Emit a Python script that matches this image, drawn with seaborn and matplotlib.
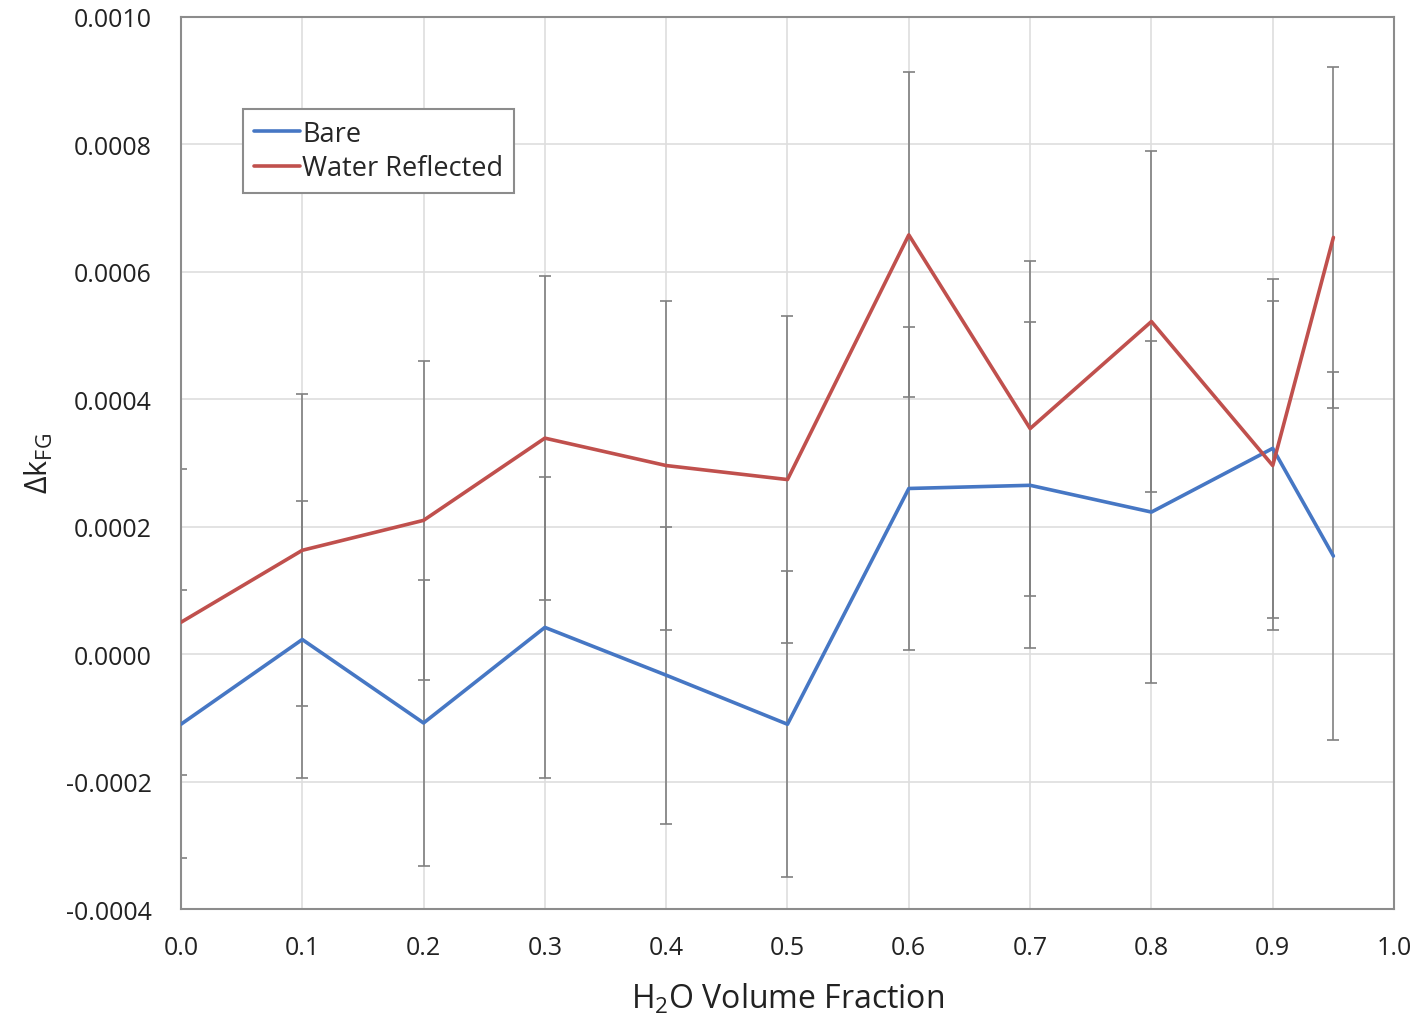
import numpy as np
import pandas as pd
import seaborn as sns
import matplotlib.pyplot as plt
from matplotlib.ticker import FuncFormatter, MultipleLocator

# valores
fraction = [0.0, 0.1, 0.2, 0.3, 0.4, 0.5, 0.6, 0.7, 0.8, 0.9, 0.95]
bare = [-0.000110, 0.000023, -0.000108, 0.000042, -0.000033, -0.000110,
        0.000260, 0.000265, 0.000223, 0.000323, 0.000154]
bare_err = [0.000210, 0.000218, 0.000225, 0.000236, 0.000233, 0.000240,
            0.000254, 0.000256, 0.000268, 0.000266, 0.000289]
water = [0.000050, 0.000163, 0.000210, 0.000339, 0.000296, 0.000274,
         0.000658, 0.000354, 0.000522, 0.000296, 0.000654]
water_err = [0.000240, 0.000245, 0.000250, 0.000254, 0.000258, 0.000256,
             0.000255, 0.000263, 0.000268, 0.000258, 0.000267]

df = pd.DataFrame({
    'Fraction': fraction * 2,
    'dk': bare + water,
    'err': bare_err + water_err,
    'Series': ['Bare'] * len(fraction) + ['Water Reflected'] * len(fraction),
})

sns.set_theme(style="whitegrid")
plt.rcParams['font.family'] = ['Open Sans', 'DejaVu Sans']

colors = {'Bare': '#4677c4', 'Water Reflected': '#c0504d'}

fig = plt.figure(figsize=(14.17, 10.2), dpi=100)
ax = fig.add_axes([0.1277, 0.1078, 0.8561, 0.8746])

# barras de erro
for name, grp in df.groupby('Series'):
    ax.errorbar(grp['Fraction'], grp['dk'], yerr=grp['err'], fmt='none',
                ecolor='#808080', elinewidth=1.2, capsize=4, capthick=1.2, zorder=2)

sns.lineplot(data=df, x='Fraction', y='dk', hue='Series', palette=colors,
             linewidth=2.6, ax=ax, zorder=3, sort=False)

ax.set_xlim(0, 1.0)
ax.set_ylim(-0.0004, 0.0010)
ax.xaxis.set_major_locator(MultipleLocator(0.1))
ax.yaxis.set_major_locator(MultipleLocator(0.0002))
ax.xaxis.set_major_formatter(FuncFormatter(lambda v, p: f'{v:.1f}'))
ax.yaxis.set_major_formatter(FuncFormatter(lambda v, p: f'{v:.4f}'))
ax.tick_params(axis='both', labelsize=18, colors='#222222', length=0)
ax.tick_params(axis='x', pad=19)
ax.tick_params(axis='y', pad=21)
ax.grid(True, color='#dedede', linewidth=1.2)
for s in ax.spines.values():
    s.set_color('#8c8c8c')
    s.set_linewidth(1.5)

ax.set_xlabel('H$_\\mathregular{2}$O Volume Fraction', fontsize=23, color='#222222', labelpad=15)
ax.set_ylabel('Δk$_\\mathregular{FG}$', fontsize=22, color='#222222', labelpad=8)

leg = ax.legend(loc='upper left', bbox_to_anchor=(0.051, 0.897), fontsize=19.5,
                frameon=True, fancybox=False, framealpha=1, edgecolor='#8c8c8c',
                handlelength=1.7, handletextpad=0.1, borderpad=0.4, labelspacing=0.25,
                borderaxespad=0)
leg.get_frame().set_linewidth(1.5)
for line in leg.get_lines():
    line.set_linewidth(2.6)

plt.savefig('out.png', dpi=100)
plt.close()
